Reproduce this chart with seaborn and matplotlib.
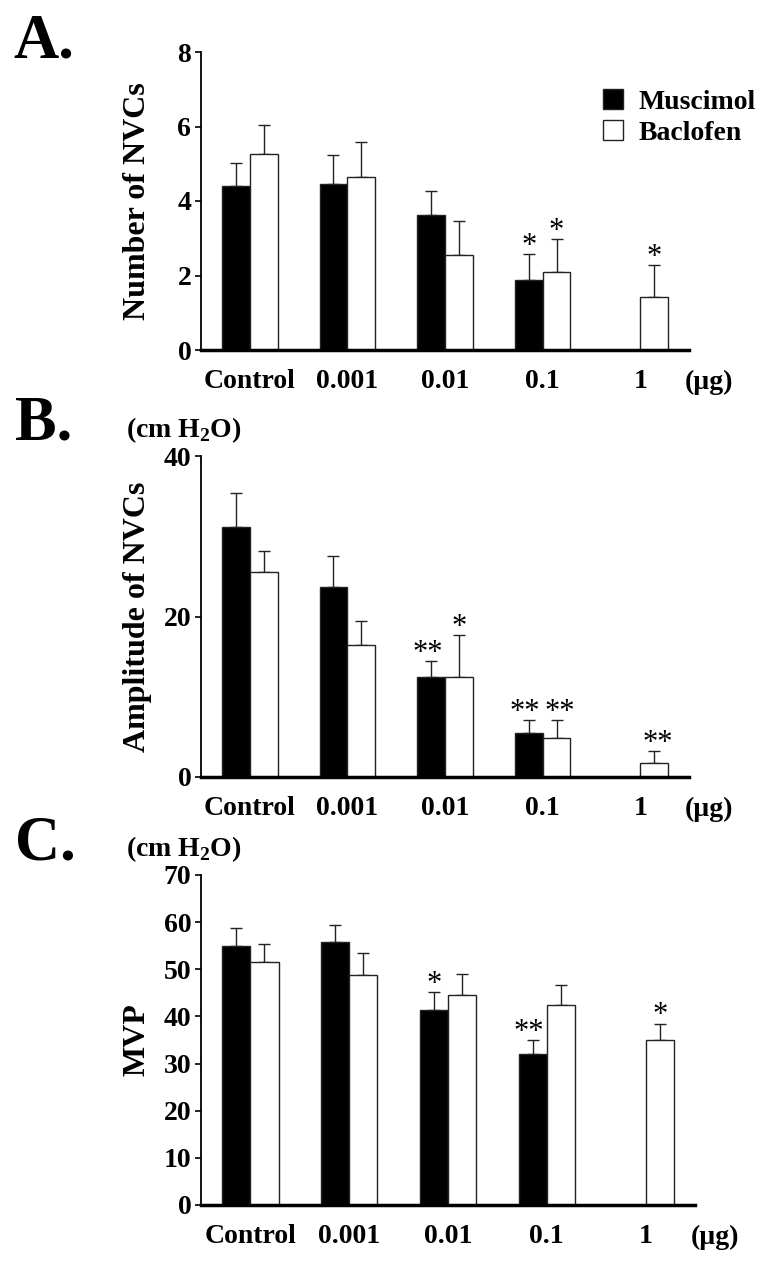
import numpy as np
import pandas as pd
import seaborn as sns
import matplotlib.pyplot as plt

doses = ['Control', '0.001', '0.01', '0.1', '1']
drugs = ['Muscimol', 'Baclofen']

# A. number of NVCs (mean, upper error)
num_musc = [4.40, 4.46, 3.62, 1.87, np.nan]
num_musc_err = [0.62, 0.77, 0.64, 0.71, np.nan]
num_bacl = [5.26, 4.64, 2.56, 2.10, 1.42]
num_bacl_err = [0.78, 0.94, 0.91, 0.89, 0.86]
num_musc_sig = ['', '', '', '*', '']
num_bacl_sig = ['', '', '', '*', '*']

# B. amplitude of NVCs (cm H2O)
amp_musc = [31.2, 23.7, 12.5, 5.5, np.nan]
amp_musc_err = [4.2, 3.9, 1.9, 1.6, np.nan]
amp_bacl = [25.5, 16.5, 12.5, 4.9, 1.7]
amp_bacl_err = [2.6, 2.9, 5.2, 2.2, 1.6]
amp_musc_sig = ['', '', '**', '**', '']
amp_bacl_sig = ['', '', '*', '**', '**']

# C. MVP (cm H2O)
mvp_musc = [55.0, 55.7, 41.4, 32.1, np.nan]
mvp_musc_err = [3.8, 3.6, 3.8, 2.8, np.nan]
mvp_bacl = [51.6, 48.8, 44.5, 42.4, 34.9]
mvp_bacl_err = [3.8, 4.7, 4.5, 4.2, 3.6]
mvp_musc_sig = ['', '', '*', '**', '']
mvp_bacl_sig = ['', '', '', '', '*']

sns.set_style('ticks', rc={'text.color': 'black', 'axes.labelcolor': 'black',
                           'xtick.color': 'black', 'ytick.color': 'black',
                           'axes.edgecolor': 'black'})
plt.rcParams['font.family'] = ['Liberation Serif', 'DejaVu Serif']
plt.rcParams['font.weight'] = 'bold'
plt.rcParams['axes.labelweight'] = 'bold'
plt.rcParams['mathtext.fontset'] = 'custom'
plt.rcParams['mathtext.rm'] = 'Liberation Serif:bold'
plt.rcParams['mathtext.bf'] = 'Liberation Serif:bold'

W, H = 772, 1263
fig = plt.figure(figsize=(W / 100, H / 100), dpi=100)


def px_axes(left, top, width, height):
    return fig.add_axes([left / W, 1 - (top + height) / H, width / W, height / H])


def draw_panel(ax, musc, musc_err, bacl, bacl_err, musc_sig, bacl_sig,
               ymax, yticks, ylabel, legend=False):
    df = pd.DataFrame({
        'dose': doses * 2,
        'drug': ['Muscimol'] * len(doses) + ['Baclofen'] * len(doses),
        'value': musc + bacl,
        'err': musc_err + bacl_err,
        'sig': musc_sig + bacl_sig,
    })
    sns.barplot(data=df, x='dose', y='value', hue='drug', order=doses, hue_order=drugs,
                palette={'Muscimol': 'black', 'Baclofen': 'white'}, saturation=1,
                width=0.57, errorbar=None, edgecolor='#222222', linewidth=1,
                legend=legend, ax=ax)

    # double stars of the two bars in a group lean slightly apart
    star_dx = {'Muscimol': -2.5, 'Baclofen': 2.5}
    for cont, drug in zip(ax.containers, drugs):
        sub = df[df.drug == drug].set_index('dose')
        for bar in cont:
            h = bar.get_height()
            if np.isnan(h):
                continue
            xc = bar.get_x() + bar.get_width() / 2
            dose = doses[int(round(xc))]
            e = sub.loc[dose, 'err']
            ax.errorbar(xc, h, yerr=[[0], [e]], fmt='none', ecolor='#222222',
                        elinewidth=1, capsize=4, capthick=1, zorder=0.9)
            sig = sub.loc[dose, 'sig']
            if sig:
                dx = star_dx[drug] if len(sig) > 1 else 0
                ax.annotate(sig, xy=(xc, h + e), xytext=(dx, 0),
                            textcoords='offset points', ha='center', va='baseline',
                            fontsize=22, fontweight='normal')

    ax.set_xlim(-0.5, 4.5)
    ax.set_ylim(0, ymax)
    ax.set_yticks(yticks)
    ax.set_xlabel('')
    ax.set_ylabel(ylabel, fontsize=23)
    ax.yaxis.set_label_coords(-0.1, 0.5)
    sns.despine(ax=ax)
    ax.spines['left'].set_linewidth(1.3)
    ax.spines['bottom'].set_linewidth(2.5)
    ax.tick_params(axis='x', length=0, pad=14, labelsize=20)
    ax.tick_params(axis='y', length=4, width=1.2, pad=3, labelsize=20)
    ax.annotate('(µg)', xy=(1.04, 0), xycoords='axes fraction', xytext=(0, -14),
                textcoords='offset points', ha='center', va='top', fontsize=20)


ax_a = px_axes(201, 52, 488, 298)
draw_panel(ax_a, num_musc, num_musc_err, num_bacl, num_bacl_err, num_musc_sig, num_bacl_sig,
           8, [0, 2, 4, 6, 8], 'Number of NVCs', legend=True)
sns.move_legend(ax_a, 'upper left', bbox_to_anchor=(0.824, 0.876), title=None, frameon=False,
                fontsize=20, handlelength=0.72, handleheight=0.72, handletextpad=0.55,
                labelspacing=0.2, borderpad=0, borderaxespad=0)

ax_b = px_axes(201, 456, 488, 321)
draw_panel(ax_b, amp_musc, amp_musc_err, amp_bacl, amp_bacl_err, amp_musc_sig, amp_bacl_sig,
           40, [0, 20, 40], 'Amplitude of NVCs')

ax_c = px_axes(201, 875, 494, 330)
draw_panel(ax_c, mvp_musc, mvp_musc_err, mvp_bacl, mvp_bacl_err, mvp_musc_sig, mvp_bacl_sig,
           70, list(range(0, 71, 10)), 'MVP')

fig.text(13 / W, 1 - 57 / H, 'A.', fontsize=45, va='baseline', ha='left')
fig.text(15 / W, 1 - 440 / H, 'B.', fontsize=45, va='baseline', ha='left')
fig.text(15 / W, 1 - 860 / H, 'C.', fontsize=45, va='baseline', ha='left')
fig.text(126 / W, 1 - 437 / H, r'(cm H$_\mathrm{2}$O)', fontsize=20, va='baseline', ha='left')
fig.text(126 / W, 1 - 856 / H, r'(cm H$_\mathrm{2}$O)', fontsize=20, va='baseline', ha='left')

fig.savefig('out.png', dpi=100)
